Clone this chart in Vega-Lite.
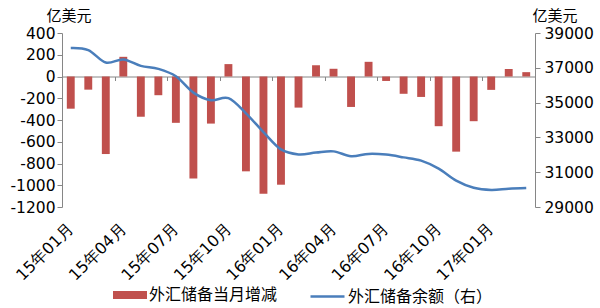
{
  "$schema": "https://vega.github.io/schema/vega-lite/v6.json",
  "width": 473,
  "height": 174,
  "autosize": {"type": "none"},
  "padding": {"left": 62, "top": 33, "right": 65, "bottom": 101},
  "background": "white",
  "config": {
    "view": {"stroke": null},
    "font": "Noto Sans CJK SC",
    "axis": {"grid": false, "domainColor": "#868686", "tickColor": "#868686", "labelColor": "#000000", "titleColor": "#000000", "titleFontWeight": "normal"},
    "legend": {"padding": 0, "offset": 0}
  },
  "data": {
    "values": [
      {"month": "15年01月", "change": -296, "reserve": 38134},
      {"month": "15年02月", "change": -121, "reserve": 38013},
      {"month": "15年03月", "change": -713, "reserve": 37300},
      {"month": "15年04月", "change": 181, "reserve": 37481},
      {"month": "15年05月", "change": -370, "reserve": 37111},
      {"month": "15年06月", "change": -172, "reserve": 36939},
      {"month": "15年07月", "change": -426, "reserve": 36513},
      {"month": "15年08月", "change": -939, "reserve": 35574},
      {"month": "15年09月", "change": -433, "reserve": 35141},
      {"month": "15年10月", "change": 114, "reserve": 35255},
      {"month": "15年11月", "change": -872, "reserve": 34383},
      {"month": "15年12月", "change": -1079, "reserve": 33304},
      {"month": "16年01月", "change": -995, "reserve": 32309},
      {"month": "16年02月", "change": -286, "reserve": 32023},
      {"month": "16年03月", "change": 103, "reserve": 32126},
      {"month": "16年04月", "change": 71, "reserve": 32197},
      {"month": "16年05月", "change": -280, "reserve": 31917},
      {"month": "16年06月", "change": 135, "reserve": 32052},
      {"month": "16年07月", "change": -41, "reserve": 32011},
      {"month": "16年08月", "change": -159, "reserve": 31852},
      {"month": "16年09月", "change": -188, "reserve": 31664},
      {"month": "16年10月", "change": -457, "reserve": 31207},
      {"month": "16年11月", "change": -691, "reserve": 30516},
      {"month": "16年12月", "change": -411, "reserve": 30105},
      {"month": "17年01月", "change": -123, "reserve": 29982},
      {"month": "17年02月", "change": 69, "reserve": 30051},
      {"month": "17年03月", "change": 40, "reserve": 30091}
    ]
  },
  "layer": [
    {
      "mark": {"type": "bar", "color": "#C0504D"},
      "encoding": {
        "x": {
          "field": "month", "type": "ordinal", "sort": null,
          "scale": {"paddingInner": 0.55, "paddingOuter": 0.275},
          "axis": {
            "orient": "bottom", "title": null, "domain": false, "ticks": false,
            "values": ["15年01月", "15年04月", "15年07月", "15年10月", "16年01月", "16年04月", "16年07月", "16年10月", "17年01月"],
            "labelAngle": -45, "labelAlign": "right", "labelBaseline": "middle",
            "labelFont": "DejaVu Sans", "labelFontSize": 16, "labelPadding": 19
          }
        },
        "y": {
          "field": "change", "type": "quantitative",
          "scale": {"domain": [-1200, 400], "nice": false},
          "axis": {
            "orient": "left", "values": [-1200, -1000, -800, -600, -400, -200, 0, 200, 400],
            "labelExpr": "(datum.value < 0 ? '-' : '') + format(abs(datum.value), 'd')",
            "tickSize": 5, "labelFont": "DejaVu Sans", "labelFontSize": 15.5, "labelPadding": 2,
            "title": "亿美元", "titleAngle": 0, "titleFontSize": 15, "titleAlign": "left", "titleBaseline": "middle",
            "titleX": -16, "titleY": -18
          }
        },
        "color": {
          "datum": "外汇储备当月增减",
          "scale": {"range": ["#C0504D"]},
          "legend": {
            "orient": "none", "legendX": 51, "legendY": 245, "title": null,
            "symbolType": "M-1,-0.24H1V0.24H-1Z", "symbolSize": 1156, "symbolStrokeWidth": 0, "symbolOpacity": 1,
            "labelFontSize": 16, "labelOffset": 2, "labelColor": "#000000"
          }
        }
      }
    },
    {
      "mark": {"type": "line", "interpolate": "cardinal", "strokeWidth": 2.5},
      "encoding": {
        "x": {
          "field": "month", "type": "ordinal", "sort": null,
          "axis": {
            "orient": "bottom", "offset": -130.5, "title": null, "labels": false,
            "domain": true, "ticks": true, "tickSize": 4, "bandPosition": 0, "tickOffset": -4.8,
            "values": ["15年04月", "15年07月", "15年10月", "16年01月", "16年04月", "16年07月", "16年10月", "17年01月"]
          }
        },
        "y": {
          "field": "reserve", "type": "quantitative",
          "scale": {"domain": [29000, 39000], "nice": false, "zero": false},
          "axis": {
            "orient": "right", "values": [29000, 31000, 33000, 35000, 37000, 39000],
            "format": "d",
            "tickSize": 5, "labelFont": "DejaVu Sans", "labelFontSize": 15.5, "labelPadding": 4,
            "title": "亿美元", "titleAngle": 0, "titleFontSize": 15, "titleAlign": "left", "titleBaseline": "middle",
            "titleX": -3, "titleY": -18
          }
        },
        "stroke": {
          "datum": "外汇储备余额（右）",
          "scale": {"range": ["#4A7EBB"]},
          "legend": {
            "orient": "none", "legendX": 247, "legendY": 245, "title": null,
            "symbolType": "stroke", "symbolSize": 1156, "symbolStrokeWidth": 2.5,
            "labelFontSize": 16, "labelOffset": 2, "labelColor": "#000000"
          }
        }
      }
    }
  ],
  "resolve": {
    "scale": {"y": "independent"},
    "axis": {"x": "independent"}
  }
}
